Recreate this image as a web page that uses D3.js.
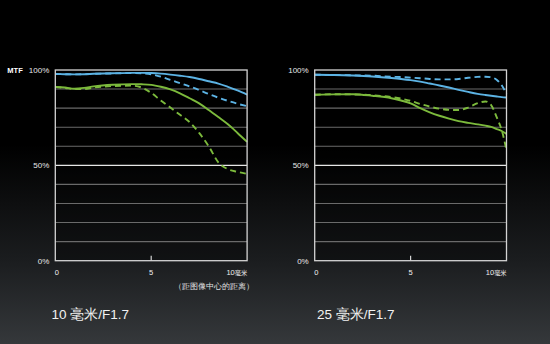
<!DOCTYPE html>
<html>
<head>
<meta charset="utf-8">
<script src="https://cdn.jsdelivr.net/npm/d3@7"></script>
<style>
  html, body { margin: 0; padding: 0; background: #000; }
  svg { display: block; }
  text { font-family: "Liberation Sans", Arial, sans-serif; }
</style>
</head>
<body>
<svg id="chart" width="550" height="344"></svg>
<script>
// Image height positions (mm from centre) at which MTF was sampled
const fieldLeft = [0, 0.5, 1, 1.5, 2, 3, 4, 4.5, 5, 5.5, 6, 6.5, 7, 7.5, 8, 8.5, 9, 9.5, 10];

// 10 mm / F1.7
const wideBlueSolid  = [97.9, 97.8, 97.7, 97.8, 98.0, 98.3, 98.5, 98.5, 98.4, 98.1, 97.6, 97.0, 96.3, 95.3, 94.1, 92.9, 91.2, 89.3, 87.1];
const wideBlueDash   = [97.9, 97.8, 97.7, 97.8, 98.0, 98.2, 98.4, 98.3, 97.8, 96.5, 94.8, 93.1, 91.4, 89.5, 87.4, 85.5, 83.8, 82.3, 81.0];
const wideGreenSolid = [91.1, 90.8, 90.2, 90.6, 91.4, 92.3, 92.6, 92.5, 92.2, 91.2, 89.8, 87.8, 85.2, 82.5, 79.0, 75.3, 71.5, 67.0, 62.3];
const wideGreenDash  = [91.1, 90.6, 90.0, 90.0, 90.8, 91.6, 91.8, 90.8, 88.0, 84.0, 80.3, 76.5, 72.7, 67.0, 60.0, 51.6, 48.0, 46.6, 45.5];

// 25 mm / F1.7
const fieldRight = [0, 1, 2, 3, 4, 4.5, 5, 5.5, 6, 6.5, 7, 7.5, 8, 8.5, 8.9, 9.2, 9.5, 9.75, 10];
const teleBlueSolid  = [97.5, 97.4, 97.1, 96.6, 95.8, 95.3, 94.7, 93.9, 92.9, 91.9, 90.8, 89.6, 88.5, 87.5, 86.9, 86.5, 86.1, 85.8, 85.6];
const teleBlueDash   = [97.5, 97.4, 97.2, 97.0, 96.5, 96.3, 96.0, 95.7, 95.3, 95.1, 95.1, 95.3, 95.9, 96.4, 96.5, 96.2, 94.8, 92.0, 87.5];
const teleGreenSolid = [87.0, 87.2, 87.3, 86.5, 85.2, 84.0, 82.5, 80.0, 77.8, 76.0, 74.5, 73.2, 72.3, 71.5, 70.8, 70.2, 69.0, 68.0, 66.5];
const teleGreenDash  = [87.0, 87.3, 87.2, 86.8, 85.8, 85.0, 83.8, 82.2, 80.8, 79.7, 79.1, 79.0, 80.3, 82.6, 83.5, 81.6, 75.0, 68.5, 58.0];

// Axis labels
const yTicks = [100, 50, 0];
const xTicks = [0, 5, 10];
const gridSteps = [10, 20, 30, 40, 60, 70, 80, 90];
const titles = ["10 毫米/F1.7", "25 毫米/F1.7"];
const xUnit = "毫米";
const xCaption = "（距图像中心的距离）";
const yCaption = "MTF";

const blue = "#5cb3e4";
const green = "#7cba3c";

const svg = d3.select("#chart");

// background: black fading to dark grey at the bottom
const defs = svg.append("defs");
const bg = defs.append("linearGradient").attr("id", "bg")
  .attr("x1", 0).attr("y1", 0).attr("x2", 0).attr("y2", 1);
bg.append("stop").attr("offset", "0").attr("stop-color", "#000");
bg.append("stop").attr("offset", "0.42").attr("stop-color", "#000");
bg.append("stop").attr("offset", "0.76").attr("stop-color", "#1b1d1f");
bg.append("stop").attr("offset", "1").attr("stop-color", "#35383b");
svg.append("rect").attr("width", 550).attr("height", 344).attr("fill", "url(#bg)");

const panels = [
  { left: 55.3, field: fieldLeft, title: titles[0], caption: true, mtf: true,
    series: [
      { v: wideBlueSolid, c: blue, dash: null },
      { v: wideBlueDash, c: blue, dash: "6,4" },
      { v: wideGreenSolid, c: green, dash: null },
      { v: wideGreenDash, c: green, dash: "6,4" }
    ] },
  { left: 314.7, field: fieldRight, title: titles[1], caption: false, mtf: false,
    series: [
      { v: teleBlueSolid, c: blue, dash: null },
      { v: teleBlueDash, c: blue, dash: "6,4" },
      { v: teleGreenSolid, c: green, dash: null },
      { v: teleGreenDash, c: green, dash: "6,4" }
    ] }
];

const plotW = 191.8, plotTop = 70, plotBottom = 260.7;

panels.forEach(p => {
  const x = d3.scaleLinear().domain([0, 10]).range([p.left, p.left + plotW]);
  const y = d3.scaleLinear().domain([0, 100]).range([plotBottom, plotTop]);
  const g = svg.append("g");

  // plot area
  g.append("rect").attr("x", x(0)).attr("y", y(100))
    .attr("width", x(10) - x(0)).attr("height", y(0) - y(100))
    .attr("fill", "rgba(0,0,0,0.35)");

  // minor grid lines
  g.selectAll("line.grid").data(gridSteps).join("line")
    .attr("x1", x(0)).attr("x2", x(10))
    .attr("y1", d => y(d)).attr("y2", d => y(d))
    .attr("stroke", "#6a6a6a").attr("stroke-width", 1.1);

  // 50% line
  g.append("line").attr("x1", x(0)).attr("x2", x(10))
    .attr("y1", y(50)).attr("y2", y(50))
    .attr("stroke", "#e6e6e6").attr("stroke-width", 1.3);

  // curves
  const line = d3.line()
    .x((d, i) => x(p.field[i]))
    .y(d => y(d))
    .curve(d3.curveMonotoneX);
  p.series.forEach(s => {
    g.append("path").datum(s.v)
      .attr("d", line)
      .attr("fill", "none")
      .attr("stroke", s.c)
      .attr("stroke-width", 1.9)
      .attr("stroke-dasharray", s.dash);
  });

  // frame
  g.append("rect").attr("x", x(0)).attr("y", y(100))
    .attr("width", x(10) - x(0)).attr("height", y(0) - y(100))
    .attr("fill", "none").attr("stroke", "#d4d4d4").attr("stroke-width", 1.3);

  // centre tick on the bottom edge
  g.append("line").attr("x1", x(5)).attr("x2", x(5))
    .attr("y1", y(0)).attr("y2", y(0) - 5)
    .attr("stroke", "#d4d4d4").attr("stroke-width", 1.2);

  // y tick labels
  g.selectAll("text.yl").data(yTicks).join("text")
    .attr("x", x(0) - 6).attr("y", d => y(d) + 2.8)
    .attr("text-anchor", "end")
    .attr("font-size", 8).attr("fill", "#e8e8e8")
    .text(d => d + "%");

  if (p.mtf) {
    g.append("text").attr("x", 7.3).attr("y", y(100) + 2.8)
      .attr("font-size", 7.5).attr("font-weight", "bold").attr("fill", "#fff")
      .text(yCaption);
  }

  // x tick labels
  xTicks.forEach(t => {
    const lbl = g.append("text").attr("y", 275.2).attr("fill", "#f0f0f0")
      .attr("font-size", 7.5);
    if (t === 10) {
      lbl.attr("x", x(10)).attr("text-anchor", "end");
      lbl.append("tspan").text(t);
      lbl.append("tspan").attr("font-size", 6.2)
        .attr("font-family", "'Noto Sans CJK SC', sans-serif").text(xUnit);
    } else {
      lbl.attr("x", x(t) + (t === 0 ? 1.6 : 0)).attr("text-anchor", "middle").text(t);
    }
  });

  if (p.caption) {
    g.append("text").attr("x", 213.7).attr("y", 289)
      .attr("text-anchor", "middle").attr("font-size", 7.6)
      .attr("font-family", "'Noto Sans CJK SC', sans-serif")
      .attr("fill", "#e0e0e0").text(xCaption);
  }

  // panel title
  g.append("text").attr("x", x(0) + (p.mtf ? -3.8 : 2.2)).attr("y", 319)
    .attr("font-size", 13.5).attr("fill", "#f2f2f2")
    .attr("font-family", "'Liberation Sans', 'Noto Sans CJK SC', sans-serif")
    .text(p.title);
});
</script>
</body>
</html>
